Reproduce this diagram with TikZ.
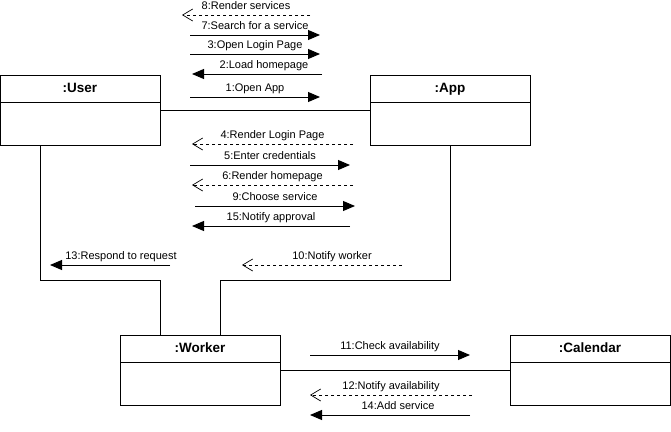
\documentclass[tikz,border=0pt]{standalone}
\usepackage{fontspec}
\setmainfont{Liberation Sans}
\usetikzlibrary{positioning}
\usetikzlibrary{arrows.meta}
\tikzset{
  obj/.style={draw, line width=0.9pt, minimum width=160pt, minimum height=70pt, inner sep=0pt},
  objhead/.style={draw, line width=0.9pt, minimum width=160pt, minimum height=27pt, inner sep=0pt,
    text height=10pt, text depth=3pt, font=\fontsize{13.5}{15}\selectfont\bfseries},
  call/.style={line width=0.9pt, -{Triangle[length=12pt,width=10pt]}},
  reply/.style={line width=0.7pt, dash pattern=on 3pt off 3pt, -{Straight Barb[length=10pt,width=12pt]}},
  msg label/.style={above=2pt, inner sep=1pt, text height=8pt, text depth=2.5pt,
    font=\fontsize{11}{13}\selectfont},
}
\newcommand{\msg}[7][]{%
  \coordinate (#2-s) at (#4,#6);
  \coordinate (#2-e) at (#5,#6);
  \draw[#3] (#2-s) -- node[msg label,#1] (#2-l) {#7} (#2-e);
}

\begin{document}
\begin{tikzpicture}[x=1pt, y=-1pt]
  \useasboundingbox (0,0) rectangle (671,431);

  % Define nodes
  \node[obj] (user) at (80,110) {};
  \node[objhead, below=0pt of user.north] (user-h) {:User};
  \node[obj] (app) at (450,110) {};
  \node[objhead, below=0pt of app.north] (app-h) {:App};
  \node[obj] (worker) at (200,370) {};
  \node[objhead, below=0pt of worker.north] (worker-h) {:Worker};
  \node[obj] (calendar) at (590,370) {};
  \node[objhead, below=0pt of calendar.north] (calendar-h) {:Calendar};

  % Connect nodes
  \draw[line width=0.9pt] (user) -- (app);
  \draw[line width=0.9pt] (worker) -- (calendar);
  \draw[line width=0.9pt] ([xshift=-40pt]user.south) |- (160,280) -- ([xshift=-40pt]worker.north);
  \draw[line width=0.9pt] (app.south) |- (220,280) -- ([xshift=20pt]worker.north);

  % Messages User - App
  \msg{m8}{reply}{310}{182}{15}{8:Render services}
  \msg{m7}{call}{190}{320}{35}{7:Search for a service}
  \msg{m3}{call}{190}{320}{54}{3:Open Login Page}
  \msg[xshift=7pt]{m2}{call}{322}{192}{74}{2:Load homepage}
  \msg{m1}{call}{190}{320}{97}{1:Open App}
  \msg{m4}{reply}{353}{192}{144}{4:Render Login Page}
  \msg{m5}{call}{190}{350}{165}{5:Enter credentials}
  \msg{m6}{reply}{353}{192}{185}{6:Render homepage}
  \msg{m9}{call}{195}{355}{206}{9:Choose service}
  \msg{m15}{call}{350}{192}{226}{15:Notify approval}

  % Messages to and from Worker
  \msg[xshift=11pt]{m13}{call}{170}{50}{265}{13:Respond to request}
  \msg[xshift=10pt]{m10}{reply}{402}{242}{265}{10:Notify worker}
  \msg{m11}{call}{310}{470}{355}{11:Check availability}
  \msg{m12}{reply}{472}{310}{395}{12:Notify availability}
  \msg[xshift=8pt]{m14}{call}{470}{310}{415}{14:Add service}

\end{tikzpicture}
\end{document}
